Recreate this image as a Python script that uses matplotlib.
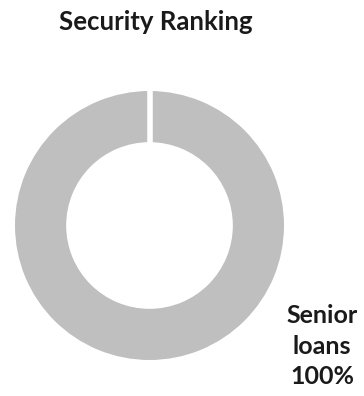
import matplotlib.pyplot as plt

plt.rcParams['font.family'] = ['Lato', 'DejaVu Sans']

labels = ['Senior\nloans\n100%']
values = [100]
colors = ['#bfbfbf']

W, H = 364, 396
fig = plt.figure(figsize=(W / 100, H / 100), dpi=100)

# donut: centre (149.5, 225.5) px, outer radius incl. edge 137 px
R = 137
cx, cy = 149.5, 225.5
ax = fig.add_axes([(cx - R) / W, (H - cy - R) / H, 2 * R / W, 2 * R / H])
wedges, _ = ax.pie(values, colors=colors, startangle=90, counterclock=False,
                   wedgeprops=dict(width=0.41, edgecolor='white', linewidth=3.6))

# white separator where the single slice starts/ends
w = wedges[0]
r_out, r_in = w.r, w.r - w.width
ax.plot([0, 0], [r_in, r_out + 0.02], color='white', lw=4, solid_capstyle='butt')

ax.set_xlim(-1, 1)
ax.set_ylim(-1, 1)
ax.set_aspect('equal')
ax.axis('off')

fig.text(156 / W, 1 - 30 / H, 'Security Ranking', ha='center', va='baseline',
         fontsize=18.5, fontweight='bold', color='#1a1a1a')
fig.text(322 / W, 1 - 346 / H, labels[0], ha='center', va='center',
         fontsize=18, fontweight='bold', color='#1a1a1a', linespacing=1.42)

fig.savefig('out.png', dpi=100)
